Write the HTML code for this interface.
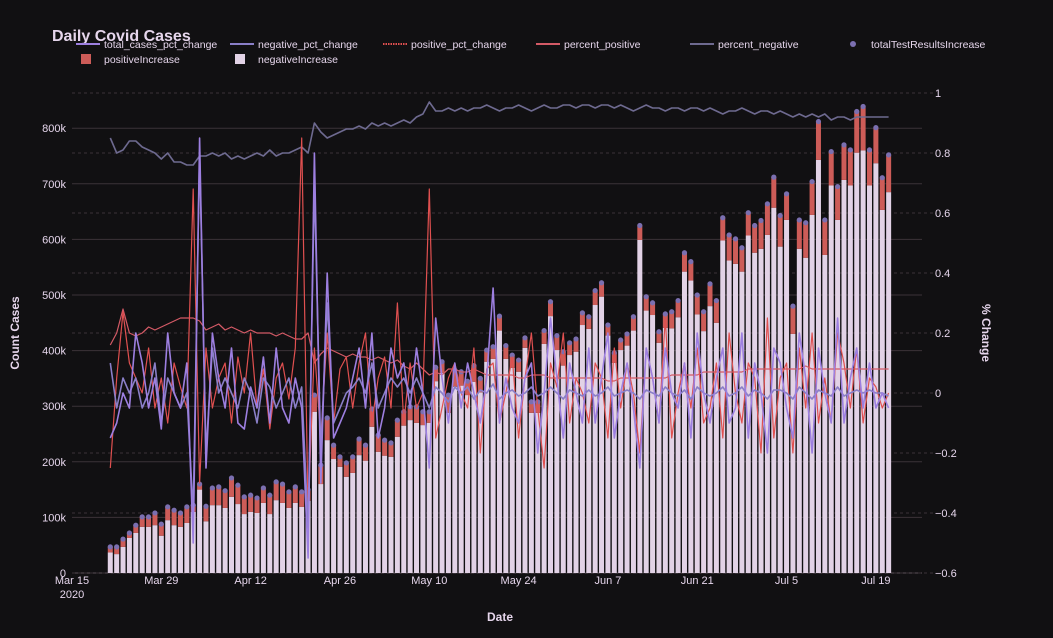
<!DOCTYPE html>
<html><head><meta charset="utf-8">
<style>
html,body{margin:0;padding:0;background:#111012;}
svg{display:block;font-family:"Liberation Sans",sans-serif;}
</style></head>
<body>
<svg id="chart" width="1053" height="638" viewBox="0 0 1053 638" xmlns="http://www.w3.org/2000/svg">
<rect width="1053" height="638" fill="#111012"/>
<g id="grid"></g>
<g id="bars"></g>
<g id="lines"></g>
<g id="axes"></g>
<text x="52" y="41" font-size="16" font-weight="bold" fill="#e6d6ec">Daily Covid Cases</text>
<g font-size="10.5" fill="#e6d6ec">
 <g><line x1="76" y1="44" x2="100" y2="44" stroke="#9d7fe0" stroke-width="2"/><text x="104" y="48">total_cases_pct_change</text></g>
 <g><line x1="230" y1="44" x2="254" y2="44" stroke="#8a7fc8" stroke-width="2"/><text x="258" y="48">negative_pct_change</text></g>
 <g><line x1="383" y1="44" x2="407" y2="44" stroke="#e05050" stroke-width="2" stroke-dasharray="1.5,1"/><text x="411" y="48">positive_pct_change</text></g>
 <g><line x1="536" y1="44" x2="560" y2="44" stroke="#d45a66" stroke-width="2"/><text x="564" y="48">percent_positive</text></g>
 <g><line x1="690" y1="44" x2="714" y2="44" stroke="#6e6a90" stroke-width="2"/><text x="718" y="48">percent_negative</text></g>
 <g><circle cx="853" cy="44" r="3" fill="#7b6fb0"/><text x="871" y="48">totalTestResultsIncrease</text></g>
 <g><rect x="81" y="54" width="10" height="10" fill="#cd5c58"/><text x="104" y="63">positiveIncrease</text></g>
 <g><rect x="235" y="54" width="10" height="10" fill="#e2d2e6"/><text x="258" y="63">negativeIncrease</text></g>
</g>
<text x="500" y="621" font-size="12" font-weight="bold" fill="#e6d6ec" text-anchor="middle">Date</text>
<text transform="translate(19,333) rotate(-90)" font-size="12" font-weight="bold" fill="#e6d6ec" text-anchor="middle">Count Cases</text>
<text transform="translate(982,333) rotate(90)" font-size="12" font-weight="bold" fill="#e6d6ec" text-anchor="middle">% Change</text>
</svg>
<script>
// ---- data (day index from Mar 15, 2020; first bar = day 6, Mar 21) ----
const startDay = 6;
const totalTestResultsIncrease = [47,47,61,72,86,101,101,108,88,119,113,108,119,122,
160,
120,153,155,148,171,158,137,140,135,153,140,164,160,146,155,146,
150,320,194,279,230,209,198,209,241,230,295,248,239,234,275,290,299,299,290,290,370,380,320,365,
362,345,373,350,401,407,462,409,392,383,423,308,308,436,488,427,398,414,421,468,461,508,522,446,396,419,430,461,625,497,486,434,466,
470,490,576,560,500,470,520,490,639,608,601,585,648,625,634,664,712,643,682,480,635,630,704,812,635,758,695,770,761,830,839,761,801,711,752];
const positiveIncrease = [10,13,14,9,14,18,18,22,21,24,27,25,29,12,
10,
27,31,33,31,34,34,31,30,27,27,34,33,34,29,29,27,
20,30,34,40,25,18,25,29,29,28,32,30,28,25,30,25,24,29,24,20,25,20,32,30,
25,25,29,25,21,22,26,24,23,21,18,20,20,24,26,26,25,22,23,22,22,26,25,19,18,18,21,25,26,25,22,20,25,
30,30,34,34,35,35,40,40,41,46,45,43,41,49,51,56,55,56,47,50,52,63,60,69,63,61,60,63,64,74,79,64,64,58,67];
const percentNegative = [.85,.80,.81,.84,.84,.82,.81,.80,.78,.80,.77,.77,.76,.76,
.79,.79,.80,.79,.80,.78,.79,.78,.79,.80,.79,.81,.79,.80,.80,.81,.82,
.80,.90,.87,.85,.86,.87,.88,.88,.89,.88,.90,.89,.90,.89,
.90,.91,.90,.92,.93,.97,.94,.94,.95,.94,
.95,.94,.95,.95,.96,.95,.94,.95,.95,.96,.95,.94,.95,.96,.95,.95,.96,.96,.95,.96,
.96,.95,.96,.96,.95,.96,.95,.94,.95,.96,.95,.95,.94,.95,.95,.94,.95,.95,.94,.95,
.94,.93,.94,.94,.95,.94,.93,.94,.94,.93,.94,.93,.92,.93,.92,.93,.92,.93,.91,.92,
.92,.91,.92,.92,.92,.92,.92,.92];
const percentPositive = [.16,.2,.28,.2,.19,.2,.22,.21,.22,.23,.24,.25,.25,.25,
.24,.21,.22,.23,.21,.22,.21,.2,.21,.2,.2,.2,.19,.2,.19,.18,.18,
.2,.1,.13,.15,.14,.13,.12,.13,.12,.12,.11,.12,.11,.1,
.11,.09,.08,.1,.08,.06,.07,.06,.08,.08,
.07,.07,.08,.07,.06,.06,.06,.06,.06,.05,.05,.06,.06,.06,.05,.05,.05,.05,.05,.05,
.05,.05,.05,.04,.04,.05,.05,.05,.05,.05,.05,.05,.05,.06,.06,.06,.06,.06,.07,.07,
.07,.07,.07,.07,.07,.08,.08,.08,.08,.08,.08,.08,.08,.08,.09,.08,.08,.08,.08,.08,
.08,.08,.08,.08,.08,.08,.08,.08];
const positivePctChange = [-.25,.05,.27,.1,.05,.0,.15,-.05,.05,-.1,.1,.02,-.05,.68,
-.3,.15,-.05,.05,.1,-.1,.12,.0,.2,-.05,.08,-.12,.05,.1,-.02,.15,.85,
-.4,.15,-.15,.2,-.1,.08,.12,-.05,.1,.2,-.1,.05,.12,-.05,
.3,-.1,.1,-.05,.0,.68,-.15,-.05,.05,.1,
.0,-.05,.15,-.2,.08,.1,-.1,.0,.12,-.15,.05,.2,-.05,-.25,.1,.02,.2,-.1,.05,.0,
-.1,.1,.05,-.15,.15,-.05,.1,.0,-.2,.15,.05,-.1,.25,-.15,.0,.1,-.05,.15,-.1,-.05,
.1,-.15,.2,.0,-.1,.1,.05,-.2,.25,-.15,.05,.1,-.2,.15,-.05,.2,-.1,.05,-.1,.2,
.1,-.05,.15,-.1,.05,.02,-.05,.0];
const totalCasesPctChange = [-.15,-.1,.0,-.05,.2,.1,-.05,.05,-.12,.2,.0,-.05,.1,-.5,
.85,-.25,.2,.05,-.05,.15,-.1,-.12,.02,-.05,.12,-.1,.15,-.05,-.1,.05,-.05,
-.55,.8,-.3,.4,-.15,-.1,-.05,.05,.15,-.05,.2,-.15,-.05,.15,
.05,.1,-.05,.15,.0,-.25,.25,.05,-.1,.1,
-.05,.1,.0,-.1,.05,.35,-.1,.05,-.05,-.1,.05,.1,-.2,.0,.25,.05,-.15,.1,.0,-.1,
.15,-.1,.05,.2,-.15,.0,.1,-.05,-.25,.15,.05,-.1,.15,.0,-.05,.1,-.15,.2,.0,-.1,
.05,.15,-.1,-.05,.2,-.15,.1,.0,-.2,.15,.1,-.05,-.15,.2,.05,-.2,.15,.0,-.1,.25,
-.1,.05,.15,-.05,.1,-.05,.0,-.05];
const negativePctChange = [.1,-.05,.05,.0,.05,-.05,.0,.1,-.1,.05,.0,-.05,.0,-.4,
.8,-.2,.15,.0,.05,.0,-.05,.05,.0,-.1,.05,.02,-.05,.0,.05,-.05,.02,
-.45,.7,-.2,.3,-.1,-.05,.0,.02,.05,.0,.1,-.05,.0,.05,
.02,.05,.0,.05,.0,-.05,.02,.0,-.03,.02,
.0,.02,-.02,.01,.0,.03,-.02,.0,.01,-.01,.0,.02,-.01,.0,.02,.0,-.02,.01,.0,-.01,
.01,-.01,.0,.02,-.01,.0,.01,.0,-.02,.01,.0,-.01,.02,.0,-.01,.01,-.02,.02,.0,-.01,
.0,.02,-.01,.0,.02,-.01,.01,.0,-.02,.01,.01,.0,-.02,.02,.0,-.02,.01,.0,-.01,.02,
-.01,.0,.01,.0,.01,.0,.0,-.01];
const yTicks = [0,100,200,300,400,500,600,700,800];
const yTickLabels = ["0","100k","200k","300k","400k","500k","600k","700k","800k"];
const y2Ticks = [-0.6,-0.4,-0.2,0,0.2,0.4,0.6,0.8,1];
const y2TickLabels = ["−0.6","−0.4","−0.2","0","0.2","0.4","0.6","0.8","1"];
const xTickDays = [0,14,28,42,56,70,84,98,112,126];
const xTickLabels = ["Mar 15","Mar 29","Apr 12","Apr 26","May 10","May 24","Jun 7","Jun 21","Jul 5","Jul 19"];

// ---- scales ----
const NS = "http://www.w3.org/2000/svg";
const X0 = 72, X1 = 922, PX_PER_DAY = 6.38;
const xs = d => X0 + d * PX_PER_DAY;
const ys = v => 573 - v * 0.556;        // thousands -> px
const y2s = v => 393 - v * 300;         // ratio -> px
function mk(tag, attrs, parent){const e=document.createElementNS(NS,tag);for(const k in attrs)e.setAttribute(k,attrs[k]);parent.appendChild(e);return e;}

const grid = document.getElementById('grid');
const axes = document.getElementById('axes');
yTicks.forEach((t,i)=>{
  const l = mk('line',{x1:X0,x2:X1,y1:ys(t),y2:ys(t),stroke:i===0?'#5a5058':'#3b3238','stroke-width':1},grid);
  
  
  const tx = mk('text',{x:66,y:ys(t)+4,'font-size':11,fill:'#e6d6ec','text-anchor':'end'},axes);
  tx.textContent = yTickLabels[i];
  
  
});
y2Ticks.forEach((t,i)=>{
  const l = mk('line',{x1:X0,x2:X1+14,y1:y2s(t),y2:y2s(t),stroke:'#3b3238','stroke-width':1,'stroke-dasharray':'3,3'},grid);
  
  
  const tx = mk('text',{x:935,y:y2s(t)+4,'font-size':11,fill:'#e6d6ec'},axes);
  tx.textContent = y2TickLabels[i];
  
  
});
xTickDays.forEach((d,i)=>{
  const tx = mk('text',{x:xs(d),y:584,'font-size':11,fill:'#e6d6ec','text-anchor':'middle'},axes);
  tx.textContent = xTickLabels[i];
  
  
});
const yr = mk('text',{x:xs(0),y:598,'font-size':11,fill:'#e6d6ec','text-anchor':'middle'},axes);
yr.textContent = '2020';



// ---- bars ----
const bars = document.getElementById('bars');
const BW = 5;
totalTestResultsIncrease.forEach((tot,i)=>{
  const d = startDay + i, cx = xs(d);
  const pos = positiveIncrease[i], neg = tot - pos;
  const nb = mk('rect',{x:cx-BW/2,y:ys(neg),width:BW,height:ys(0)-ys(neg),fill:'#e2d2e6'},bars);
  
  
  const pb = mk('rect',{x:cx-BW/2,y:ys(tot),width:BW,height:ys(neg)-ys(tot),fill:'#cd5c58'},bars);
  
  
  const m = mk('circle',{cx:cx,cy:ys(tot),r:2.6,fill:'#7b6fb0'},bars);
  
  
});

// ---- lines ----
const lines = document.getElementById('lines');
function drawLine(arr, color, w, dash, name){
  const pts = arr.map((v,i)=>xs(startDay+i).toFixed(1)+','+y2s(v).toFixed(1)).join(' ');
  const a = {points:pts,fill:'none',stroke:color,'stroke-width':w,'stroke-linejoin':'round'};
  if(dash) a['stroke-dasharray']=dash;
  const p = mk('polyline',a,lines);
  
  
}
drawLine(percentNegative,'#6e6a90',1.6,null,'percent-negative-line');
drawLine(percentPositive,'#d45a66',1.2,null,'percent-positive-line');
drawLine(positivePctChange,'#e05050',1.2,null,'positive-pct-change-line');
drawLine(negativePctChange,'#8a7fc8',1.6,null,'negative-pct-change-line');
drawLine(totalCasesPctChange,'#9d7fe0',1.6,null,'total-cases-pct-change-line');
</script>
</body></html>
